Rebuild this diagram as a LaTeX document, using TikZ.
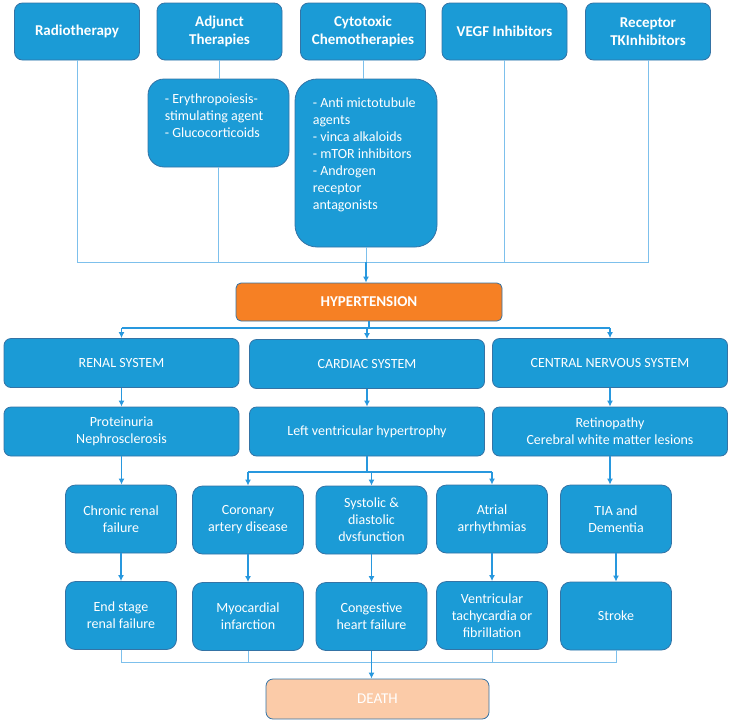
\documentclass[tikz,border=0pt]{standalone}
\usepackage{fontspec}
\setmainfont{Carlito}
\usepackage{tikz}
\usetikzlibrary{arrows.meta}

\definecolor{boxblue}{RGB}{27,155,214}
\definecolor{boxline}{RGB}{52,115,165}
\definecolor{linkblue}{RGB}{125,192,236}
\definecolor{arrblue}{RGB}{40,152,222}
\definecolor{hyporange}{RGB}{246,128,36}
\definecolor{deathpeach}{RGB}{251,203,168}

\begin{document}
\begin{tikzpicture}[x=1pt,y=-1pt,
    box/.style={draw=boxline, fill=boxblue, text=white, line width=0.8pt,
        rounded corners=7pt, inner sep=0pt, align=center,
        font=\fontsize{14}{17}\selectfont},
    head/.style={box, font=\bfseries\fontsize{15}{18}\selectfont,
        minimum width=125pt, minimum height=57pt, rounded corners=8pt},
    sys/.style={box, minimum width=235pt, minimum height=49pt},
    sub/.style={box, minimum width=111pt, minimum height=68pt, rounded corners=10pt},
    list/.style={text=white, align=left, inner sep=0pt,
        font=\fontsize{14}{17}\selectfont},
    link/.style={draw=linkblue, line width=1pt},
    arr/.style={draw=arrblue, line width=1.2pt, -{Latex[length=6pt,width=6pt]}},
    arrline/.style={draw=arrblue, line width=1.2pt}]

\useasboundingbox (0,0) rectangle (735,723);

% treatments
\node[head] (radio) at (77,31.5) {Radiotherapy};
\node[head] (adj) at (219.5,31.5) {Adjunct\\Therapies};
\node[head] (cyto) at (363,31.5) {Cytotoxic\\Chemotherapies};
\node[head] (vegf) at (504.5,31.5) {VEGF Inhibitors};
\node[head] (rtk) at (648,31.5) {Receptor\\TKInhibitors};

\node[box, minimum width=141pt, minimum height=88pt, rounded corners=16pt] (adl) at (218.5,123) {};
\node[list, anchor=north west] (adltext) at ([shift={(17,15)}]adl.north west)
    {- Erythropoiesis-\\stimulating agent\\- Glucocorticoids};

\node[box, minimum width=142pt, minimum height=168pt, rounded corners=22pt] (cyl) at (366,163) {};
\node[list, anchor=north west] (cyltext) at ([shift={(18,19)}]cyl.north west)
    {- Anti mictotubule\\agents\\- vinca alkaloids\\- mTOR inhibitors\\- Androgen\\receptor\\antagonists};

\node[box, fill=hyporange, font=\bfseries\fontsize{15}{18}\selectfont,
    minimum width=266pt, minimum height=38pt, rounded corners=5pt] (hyp) at (369,302) {HYPERTENSION};

\coordinate (bus) at (366,262);
\draw[link] (radio.south) |- (rtk.south |- bus) -- (rtk.south);
\draw[link] (adj.south) -- (adj.south |- adl.north);
\draw[link] (adl.south) -- (adl.south |- bus);
\draw[link] (cyto.south) -- (cyto.south |- cyl.north);
\draw[link] (cyl.south) -- (bus);
\draw[link] (vegf.south) -- (vegf.south |- bus);
\draw[arr] (bus) -- (bus |- hyp.north);

% organ systems
\node[sys] (renal) at (121.5,363) {RENAL SYSTEM};
\node[sys] (card) at (367,364) {CARDIAC SYSTEM};
\node[sys] (cns) at (610,363) {CENTRAL NERVOUS SYSTEM};

\node[sys] (prot) at (121.5,431.5) {Proteinuria\\Nephrosclerosis};
\node[sys] (lvh) at (367,431.5) {Left ventricular hypertrophy};
\node[sys] (ret) at (610,431.5) {Retinopathy\\Cerebral white matter lesions};

\coordinate (split) at (367,328);
\draw[arrline] (hyp.south) -- (hyp.south |- split);
\draw[arrline] (renal.north |- split) -- (cns.north |- split);
\foreach \n in {renal,card,cns}
    \draw[arr] (\n.north |- split) -- (\n.north);

\foreach \a/\b in {renal/prot,card/lvh,cns/ret}
    \draw[arr] (\a.south) -- (\b.north);

% complications
\node[sub] (crf) at (121,519) {Chronic renal\\failure};
\node[sub] (cad) at (248,520) {Coronary\\artery disease};
\node[sub] (sdd) at (371.5,520) {Systolic \&\\diastolic\\dvsfunction};
\node[sub] (aa) at (492,519) {Atrial\\arrhythmias};
\node[sub] (tia) at (616,519) {TIA and\\Dementia};

\node[sub] (esrf) at (121,615.5) {End stage\\renal failure};
\node[sub] (mi) at (248,616.5) {Myocardial\\infarction};
\node[sub] (chf) at (371.5,616.5) {Congestive\\heart failure};
\node[sub] (vt) at (492,615.5) {Ventricular\\tachycardia or\\fibrillation};
\node[sub] (stroke) at (616,616) {Stroke};

\draw[arr] (prot.south) -- (prot.south |- crf.north);

\coordinate (lsplit) at (367,472);
\draw[arrline] (lvh.south) -- (lsplit);
\draw[arrline] (cad.north |- lsplit) -- (aa.north |- lsplit);
\foreach \n in {cad,sdd,aa}
    \draw[arr] (\n.north |- lsplit) -- (\n.north);

\draw[arr] (ret.south) -- (ret.south |- tia.north);

\foreach \a/\b in {crf/esrf,cad/mi,sdd/chf,aa/vt,tia/stroke}
    \draw[arr] (\a.south) -- (\b.north);

\node[box, fill=deathpeach, font=\fontsize{15}{18}\selectfont,
    minimum width=223pt, minimum height=40pt] (death) at (377.5,699) {DEATH};

\coordinate (join) at (371.5,662);
\draw[link] (esrf.south) |- (stroke.south |- join) -- (stroke.south);
\foreach \n in {mi,vt}
    \draw[link] (\n.south) -- (\n.south |- join);
\draw[arr] (chf.south) -- (chf.south |- death.north);

\end{tikzpicture}
\end{document}
